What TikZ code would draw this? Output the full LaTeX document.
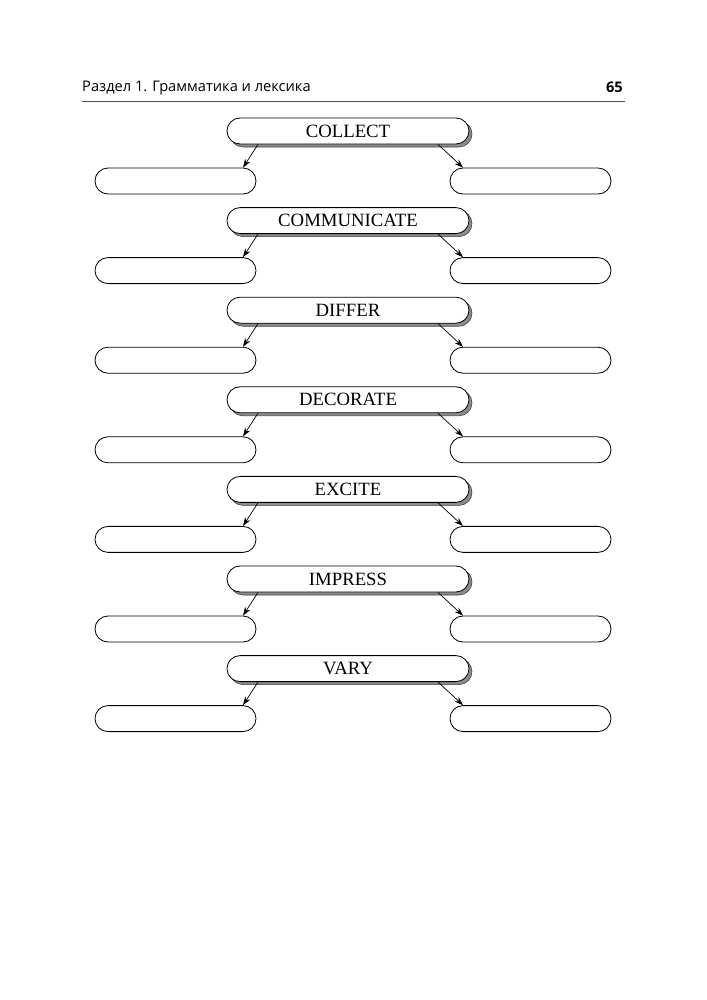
\documentclass[tikz,border=0pt]{standalone}
\usepackage{fontspec}
\setmainfont{Liberation Serif}
\newfontfamily\headfont{Open Sans}
\usetikzlibrary{
    shapes.misc,
    shadows,
    arrows.meta
}

\tikzset{
    wordbox/.style={rounded rectangle, draw, line width=0.7pt, fill=white,
        minimum width=7.26cm, minimum height=0.78cm, inner sep=0pt,
        font=\fontsize{16}{16}\selectfont,
        copy shadow={shadow xshift=0.09cm, shadow yshift=-0.09cm,
            fill=black!45, draw=black!75, line width=0.5pt}},
    blankbox/.style={rounded rectangle, draw, line width=0.7pt, fill=white,
        minimum width=4.83cm, minimum height=0.78cm, inner sep=0pt},
    link/.style={line width=0.6pt, -{Stealth[length=2.6mm, width=1.8mm]}}
}

\begin{document}
\begin{tikzpicture}[x=0.03cm, y=-0.03cm]
    \useasboundingbox (0, 0) rectangle (707, 1000);
    % page header
    \node[anchor=west, inner sep=0pt, font=\headfont\fontsize{12.5}{12.5}\selectfont] (head) at (82, 88) {Раздел 1. Грамматика и лексика};
    \node[anchor=east, inner sep=0pt, font=\headfont\bfseries\fontsize{12.5}{12.5}\selectfont] (page) at (623, 87) {65};
    \draw[line width=0.6pt, black!70] (82, 101) -- (625, 101);
    % word families
    \foreach \word [count=\i] in {COLLECT, COMMUNICATE, DIFFER, DECORATE, EXCITE, IMPRESS, VARY} {
        \pgfmathsetmacro{\ytop}{131 + 89.6*(\i - 1)}
        \pgfmathsetmacro{\ybot}{\ytop + 50}
        \node[wordbox] (w\i) at (348, \ytop) {\word};
        \node[blankbox] (l\i) at (175.5, \ybot) {};
        \node[blankbox] (r\i) at (530.5, \ybot) {};
        \draw[link] ([xshift=-2.7cm]w\i.south) -- (l\i.north east);
        \draw[link] ([xshift=2.7cm]w\i.south) -- (r\i.north west);
    }
\end{tikzpicture}
\end{document}
